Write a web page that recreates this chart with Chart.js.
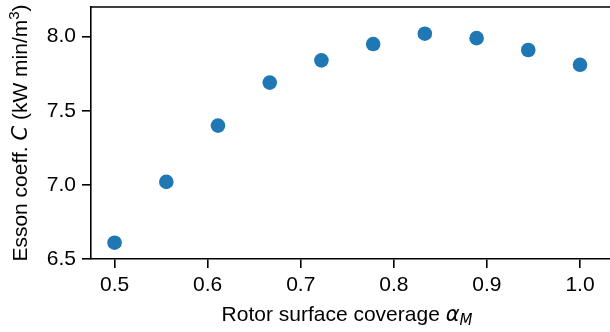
<!DOCTYPE html>
<html>
<head>
<meta charset="utf-8">
<script src="https://cdn.jsdelivr.net/npm/chart.js@4"></script>
<style>
    html, body { margin: 0; padding: 0; background: #fff; }
</style>
</head>
<body>
<canvas id="essonChart" width="610" height="332"></canvas>
<script>
// --- Data ---
const coverage   = [0.5, 0.5556, 0.6111, 0.6667, 0.7222, 0.7778, 0.8333, 0.8889, 0.9444, 1.0];
const essonCoeff = [6.61, 7.02, 7.40, 7.69, 7.84, 7.95, 8.02, 7.99, 7.91, 7.81];
const xTicks = [0.5, 0.6, 0.7, 0.8, 0.9, 1.0];
const yTicks = [6.5, 7.0, 7.5, 8.0];

const baseFont = '"Liberation Sans", Arial, sans-serif';
const mathFont = '"DejaVu Sans", sans-serif';
const fontSize = 21;
const axisColor = '#000';

// draw a run of text pieces with mixed styles, centred on x
function drawRich(ctx, parts, x, y) {
    let total = 0;
    parts.forEach(p => {
        ctx.font = p.font;
        p.w = ctx.measureText(p.text).width;
        total += p.w;
    });
    let cx = x - total / 2;
    ctx.textBaseline = 'alphabetic';
    ctx.textAlign = 'left';
    parts.forEach(p => {
        ctx.font = p.font;
        ctx.fillText(p.text, cx, y + (p.dy || 0));
        cx += p.w;
    });
}

// no auto padding for overflowing tick labels
function noPadding(scale) {
    scale.paddingTop = 0;
    scale.paddingBottom = 0;
    scale.paddingLeft = 0;
    scale.paddingRight = 0;
}

const axisTitles = {
    id: 'axisTitles',
    afterDraw(chart) {
        const { ctx, chartArea } = chart;
        ctx.save();
        ctx.fillStyle = axisColor;

        // top spine
        ctx.strokeStyle = axisColor;
        ctx.lineWidth = 1.6;
        ctx.beginPath();
        ctx.moveTo(chartArea.left - 0.8, chartArea.top);
        ctx.lineTo(chartArea.right + 2, chartArea.top);
        ctx.stroke();

        // x title
        drawRich(ctx, [
            { text: 'Rotor surface coverage ', font: `${fontSize}px ${baseFont}` },
            { text: 'α', font: `italic ${fontSize}px ${mathFont}` },
            { text: 'M', font: `italic ${Math.round(fontSize * 0.7)}px ${mathFont}`, dy: 4 }
        ], 347, 321);

        // y title (rotated)
        ctx.translate(27, 133);
        ctx.rotate(-Math.PI / 2);
        drawRich(ctx, [
            { text: 'Esson coeff. ', font: `${fontSize}px ${baseFont}` },
            { text: 'C', font: `italic ${fontSize}px ${mathFont}` },
            { text: ' (kW min/m', font: `${fontSize}px ${baseFont}` },
            { text: '3', font: `${Math.round(fontSize * 0.7)}px ${baseFont}`, dy: -8 },
            { text: ')', font: `${fontSize}px ${baseFont}` }
        ], 0, 0);
        ctx.restore();
    }
};

new Chart(document.getElementById('essonChart'), {
    type: 'scatter',
    data: {
        datasets: [{
            data: coverage.map((x, i) => ({ x: x, y: essonCoeff[i] })),
            backgroundColor: '#1f77b4',
            borderWidth: 0,
            pointRadius: 7.3,
            pointHoverRadius: 7.3
        }]
    },
    options: {
        responsive: false,
        animation: false,
        layout: { autoPadding: false, padding: { top: 7, right: 0, left: 0, bottom: 0 } },
        plugins: {
            legend: { display: false },
            tooltip: { enabled: false }
        },
        scales: {
            x: {
                type: 'linear',
                min: 0.4747,
                max: 1.0322,
                afterFit: scale => { scale.height = 73; noPadding(scale); },
                afterBuildTicks: scale => { scale.ticks = xTicks.map(v => ({ value: v })); },
                grid: { drawOnChartArea: false, drawTicks: true, tickLength: 9, color: axisColor, lineWidth: 1.6 },
                border: { display: true, color: axisColor, width: 1.6 },
                ticks: {
                    color: axisColor,
                    padding: 5,
                    maxRotation: 0,
                    font: { family: baseFont, size: fontSize },
                    callback: v => Number(v).toFixed(1)
                }
            },
            y: {
                min: 6.5,
                max: 8.2,
                afterFit: scale => { scale.width = 91; noPadding(scale); },
                afterBuildTicks: scale => { scale.ticks = yTicks.map(v => ({ value: v })); },
                grid: { drawOnChartArea: false, drawTicks: true, tickLength: 9, color: axisColor, lineWidth: 1.6 },
                border: { display: true, color: axisColor, width: 1.6 },
                ticks: {
                    color: axisColor,
                    padding: 6,
                    font: { family: baseFont, size: fontSize },
                    callback: v => Number(v).toFixed(1)
                }
            }
        }
    },
    plugins: [axisTitles]
});
</script>
</body>
</html>
